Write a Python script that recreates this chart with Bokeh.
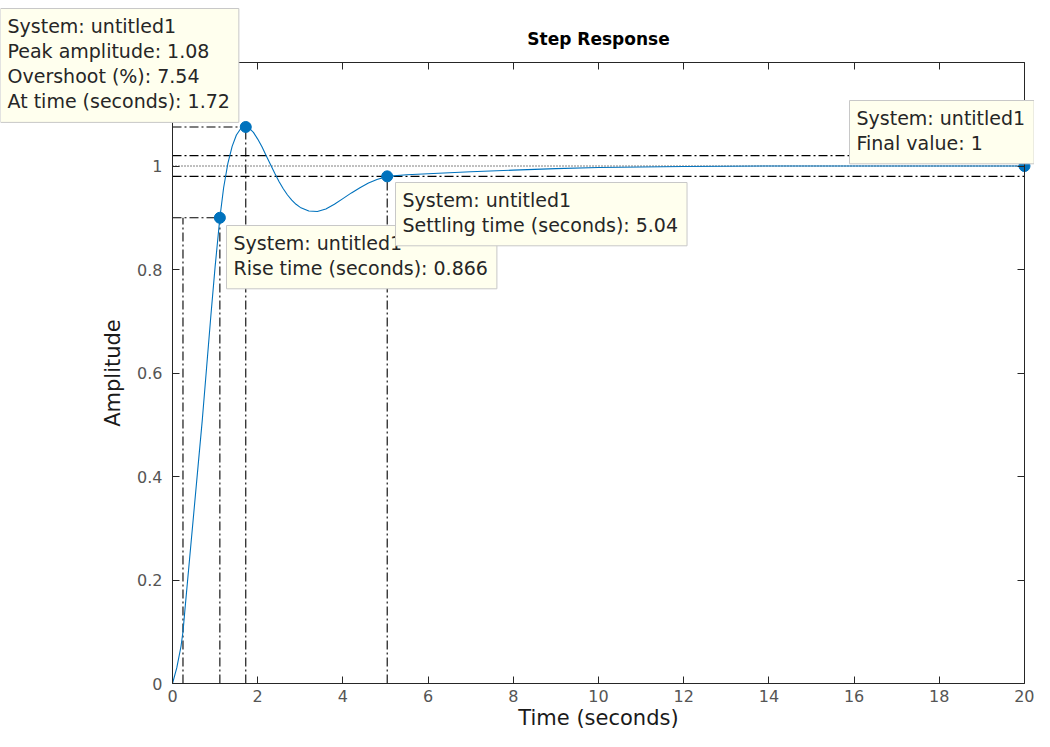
from bokeh.plotting import figure
from bokeh.models import Range1d, LinearAxis, Label, FixedTicker
from bokeh.embed import file_html
from bokeh.resources import INLINE

# ---------------- data ----------------
time_s = [0, 0.1, 0.2, 0.246, 0.3, 0.4, 0.5, 0.6, 0.7, 0.8, 0.9, 1.0, 1.112, 1.2, 1.3,
          1.4, 1.5, 1.6, 1.72, 1.8, 1.9, 2.0, 2.1, 2.2, 2.3, 2.4, 2.5, 2.6, 2.7, 2.8,
          2.9, 3.0, 3.2, 3.4, 3.6, 3.8, 4.0, 4.2, 4.4, 4.6, 4.8, 5.04, 5.5, 6.0, 6.5,
          7.0, 8.0, 9.0, 10.0, 11.0, 12.0, 14.0, 16.0, 18.0, 20.0]
amplitude = [0, 0.03, 0.072, 0.1, 0.15, 0.24, 0.33, 0.42, 0.51, 0.61, 0.71, 0.805, 0.9, 0.958, 1.005,
             1.038, 1.06, 1.072, 1.0754, 1.073, 1.065, 1.052, 1.037, 1.02, 1.003, 0.986, 0.97, 0.956, 0.944, 0.934,
             0.926, 0.92, 0.913, 0.912, 0.917, 0.926, 0.937, 0.948, 0.958, 0.967, 0.974, 0.98, 0.983, 0.985, 0.987,
             0.989, 0.992, 0.995, 0.997, 0.998, 0.999, 1.0, 1.0, 1.0, 1.0]

rise_t10 = 0.246
rise_t90 = 1.112
rise_level = 0.9
peak_time = 1.72
peak_amp = 1.0754
settle_time = 5.04
settle_amp = 0.98
settle_lo = 0.98
settle_hi = 1.02
final_value = 1.0
t_start = 0.0
t_end = 20.0
amp_max = 1.2

x_ticks = [0, 2, 4, 6, 8, 10, 12, 14, 16, 18, 20]
y_ticks = [0, 0.2, 0.4, 0.6, 0.8, 1.0, 1.2]

tip_peak = "System: untitled1\nPeak amplitude: 1.08\nOvershoot (%): 7.54\nAt time (seconds): 1.72"
tip_rise = "System: untitled1\nRise time (seconds): 0.866"
tip_settle = "System: untitled1\nSettling time (seconds): 5.04"
tip_final = "System: untitled1\nFinal value: 1"

# ---------------- layout (canvas pixels) ----------------
CW, CH = 1034, 731            # whole canvas
AX_L, AX_R = 172, 1024        # plot box left/right
AX_T, AX_B = 62, 683          # plot box top/bottom
sx = (AX_R - AX_L) / (t_end - t_start)
sy = (AX_B - AX_T) / amp_max
x_lo = t_start - AX_L / sx
x_hi = t_start + (CW - AX_L) / sx
y_lo = -(CH - AX_B) / sy
y_hi = amp_max + AX_T / sy

FONT = "DejaVu Sans"
AXC = "#262626"
BLUE = "#0072BD"

p = figure(frame_width=CW, frame_height=CH,
           min_border_left=0, min_border_top=0, min_border_right=0, min_border_bottom=0,
           x_range=Range1d(x_lo, x_hi), y_range=Range1d(y_lo, y_hi),
           x_axis_location=None, y_axis_location=None,
           output_backend="svg", toolbar_location=None,
           background_fill_color="white", border_fill_color="white")
p.xgrid.visible = False
p.ygrid.visible = False
p.outline_line_color = None


def make_axis(ticks, bounds, loc, labels=True, label=None):
    ax = LinearAxis(ticker=FixedTicker(ticks=ticks), bounds=bounds, fixed_location=loc)
    ax.axis_line_color = AXC
    ax.major_tick_line_color = AXC
    ax.major_tick_in = 7
    ax.major_tick_out = 0
    ax.minor_tick_line_color = None
    ax.major_label_text_font = FONT
    if labels:
        ax.major_label_text_color = "#555555"
        ax.major_label_text_font_size = "16px"
    else:
        ax.major_label_text_color = None
        ax.major_label_text_font_size = "1px"
        ax.major_label_standoff = 0
    if label:
        ax.axis_label = label
        ax.axis_label_text_font = FONT
        ax.axis_label_text_font_style = "normal"
        ax.axis_label_text_color = "#1a1a1a"
        ax.axis_label_text_font_size = "21px"
    return ax


xb = make_axis(x_ticks, (t_start, t_end), 0.0, label="Time (seconds)")
xb.major_label_standoff = 6
xb.axis_label_standoff = 1
yl = make_axis(y_ticks, (0.0, amp_max), t_start, label="Amplitude")
yl.major_label_standoff = 10
yl.axis_label_standoff = 9
xt = make_axis(x_ticks, (t_start, t_end), amp_max, labels=False)
yr = make_axis(y_ticks, (0.0, amp_max), t_end, labels=False)
p.add_layout(xb, "below")
p.add_layout(yl, "left")
p.add_layout(xt, "above")
p.add_layout(yr, "right")

# ---------------- characteristic lines ----------------
DASHDOT = "9 3 2 3"
DOT = "1 2"
LC = "#000000"
LW = 1.1
# rise time
p.line([t_start, rise_t90], [rise_level, rise_level], line_dash=DASHDOT, line_color=LC, line_width=LW)
p.line([rise_t10, rise_t10], [0, rise_level], line_dash=DASHDOT, line_color=LC, line_width=LW)
p.line([rise_t90, rise_t90], [0, rise_level], line_dash=DASHDOT, line_color=LC, line_width=LW)
# peak
p.line([t_start, peak_time], [peak_amp, peak_amp], line_dash=DASHDOT, line_color=LC, line_width=LW)
p.line([peak_time, peak_time], [0, peak_amp], line_dash=DASHDOT, line_color=LC, line_width=LW)
# settling band
p.line([t_start, t_end], [settle_hi, settle_hi], line_dash=DASHDOT, line_color=LC, line_width=LW)
p.line([t_start, t_end], [settle_lo, settle_lo], line_dash=DASHDOT, line_color=LC, line_width=LW)
p.line([settle_time, settle_time], [0, settle_amp], line_dash=DASHDOT, line_color=LC, line_width=LW)
# final value
p.line([t_start, t_end], [final_value, final_value], line_dash=DOT, line_color=LC, line_width=1)

# ---------------- response ----------------
p.line(time_s, amplitude, line_color=BLUE, line_width=1.1)
p.scatter([rise_t90, peak_time, settle_time, t_end],
          [rise_level, peak_amp, settle_amp, final_value],
          size=11, marker="circle", fill_color=BLUE, line_color=BLUE)


# ---------------- data tips (canvas pixels, top-left anchored) ----------------
def tip(text, cx, cy):
    lab = Label(x=cx, y=cy, x_units="canvas", y_units="canvas", text=text,
                text_font=FONT, text_font_size="19px", text_color="#262626",
                text_align="left", text_baseline="top", text_line_height=1.15,
                background_fill_color="#FFFFEE", border_line_color="#C8C8C8",
                border_line_width=1, padding=dict(left=7, right=9, top=6, bottom=10),
                level="overlay")
    p.add_layout(lab)


tip(tip_rise, 226, 225)
tip(tip_settle, 395, 182)
tip(tip_final, 849, 100)
tip(tip_peak, 0, 8)

title = Label(x=(AX_L + AX_R) / 2, y=38, x_units="canvas", y_units="canvas", text="Step Response",
              text_font=FONT, text_font_size="17px", text_font_style="bold",
              text_color="#000000", text_align="center", text_baseline="middle",
              level="overlay")
p.add_layout(title)

open("out.html", "w").write(file_html(p, INLINE))
